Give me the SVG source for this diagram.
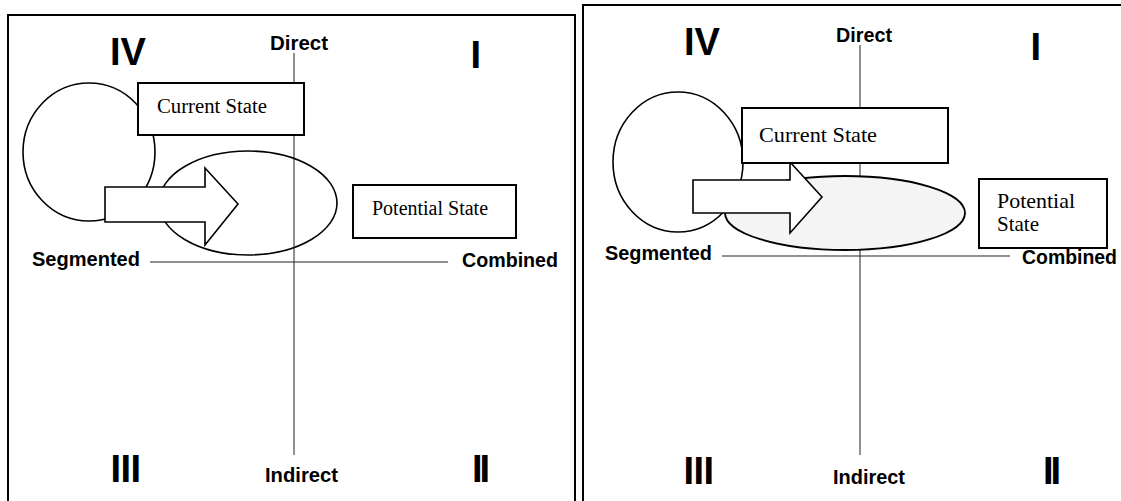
<svg xmlns="http://www.w3.org/2000/svg" width="1121" height="501" viewBox="0 0 1121 501">
<style>
.frame{fill:none;stroke:#000;stroke-width:2}
.axis{fill:none;stroke:#222;stroke-width:1}
.shape{fill:#fff;stroke:#000;stroke-width:1.6}
.stip{fill:#f4f4f4;stroke:#000;stroke-width:1.8}
.box{fill:#fff;stroke:#000;stroke-width:2}
.num{font-family:"Liberation Sans",Arial,sans-serif;font-weight:bold;font-size:38px;fill:#000}
.lab{font-family:"Liberation Sans",Arial,sans-serif;font-weight:bold;font-size:20px;fill:#000}
.tl{font-family:"Liberation Serif","Times New Roman",serif;font-size:20px;fill:#000}
.tr{font-family:"Liberation Serif","Times New Roman",serif;font-size:21px;fill:#000}
</style>
<rect width="1121" height="501" fill="#fff"/>

<!-- LEFT PANEL -->
<g id="left-frame"><rect class="frame" x="8" y="15" width="567" height="500"/></g>
<g id="left-circle"><ellipse class="shape" cx="89" cy="152" rx="66" ry="69"/></g>
<g id="left-ellipse"><ellipse class="shape" cx="248" cy="203" rx="89" ry="52"/></g>
<g id="left-axes">
<line class="axis" x1="294" y1="53" x2="294" y2="455"/>
<line class="axis" x1="150" y1="262" x2="448" y2="262"/>
</g>
<g id="left-arrow"><path class="shape" d="M105,187 H205 V168 L238,204 L205,245 V222 H105 Z"/></g>
<g id="left-current"><rect class="box" x="138" y="83" width="166" height="52"/>
<text class="tl" x="157" y="113" textLength="110" lengthAdjust="spacingAndGlyphs">Current State</text></g>
<g id="left-potential"><rect class="box" x="353" y="185" width="163" height="53"/>
<text class="tl" x="372" y="215" textLength="116" lengthAdjust="spacingAndGlyphs">Potential State</text></g>
<g id="left-labels">
<text class="num" x="110" y="65">IV</text>
<text class="num" x="470.5" y="68">I</text>
<text class="num" x="110.5" y="482" letter-spacing="-0.5">III</text>
<text class="num" x="472" y="482" letter-spacing="-3">II</text>
<text class="lab" x="270" y="50" textLength="58" lengthAdjust="spacingAndGlyphs">Direct</text>
<text class="lab" x="265" y="482" textLength="73" lengthAdjust="spacingAndGlyphs">Indirect</text>
<text class="lab" x="32" y="266" textLength="108" lengthAdjust="spacingAndGlyphs">Segmented</text>
<text class="lab" x="462" y="267" textLength="96" lengthAdjust="spacingAndGlyphs">Combined</text>
</g>

<!-- RIGHT PANEL -->
<g id="right-frame"><rect class="frame" x="583" y="5" width="545" height="510"/></g>
<g id="right-axes">
<line class="axis" x1="860" y1="45" x2="860" y2="455"/>
<line class="axis" x1="722" y1="256" x2="1010" y2="256"/>
</g>
<g id="right-ellipse"><ellipse class="stip" cx="845" cy="213" rx="120" ry="37"/></g>
<g id="right-circle"><ellipse class="shape" cx="678" cy="162" rx="65" ry="70"/></g>
<g id="right-arrow"><path class="shape" d="M693,180 H790 V162 L822,197 L790,233 V213 H693 Z"/></g>
<g id="right-current"><rect class="box" x="742" y="108" width="206" height="55"/>
<text class="tr" x="759" y="142" textLength="118" lengthAdjust="spacingAndGlyphs">Current State</text></g>
<g id="right-potential"><rect class="box" x="979" y="179" width="128" height="69"/>
<text class="tr" x="997" y="208" textLength="78" lengthAdjust="spacingAndGlyphs">Potential</text>
<text class="tr" x="997" y="231">State</text></g>
<g id="right-labels">
<text class="num" x="684" y="55" textLength="36" lengthAdjust="spacingAndGlyphs">IV</text>
<text class="num" x="1030.5" y="60">I</text>
<text class="num" x="683.5" y="484" letter-spacing="-0.5">III</text>
<text class="num" x="1043" y="484" letter-spacing="-3">II</text>
<text class="lab" x="836" y="42" textLength="56" lengthAdjust="spacingAndGlyphs">Direct</text>
<text class="lab" x="833" y="484" textLength="72" lengthAdjust="spacingAndGlyphs">Indirect</text>
<text class="lab" x="605" y="260" textLength="107" lengthAdjust="spacingAndGlyphs">Segmented</text>
<text class="lab" x="1022" y="264" textLength="95" lengthAdjust="spacingAndGlyphs">Combined</text>
</g>
</svg>
